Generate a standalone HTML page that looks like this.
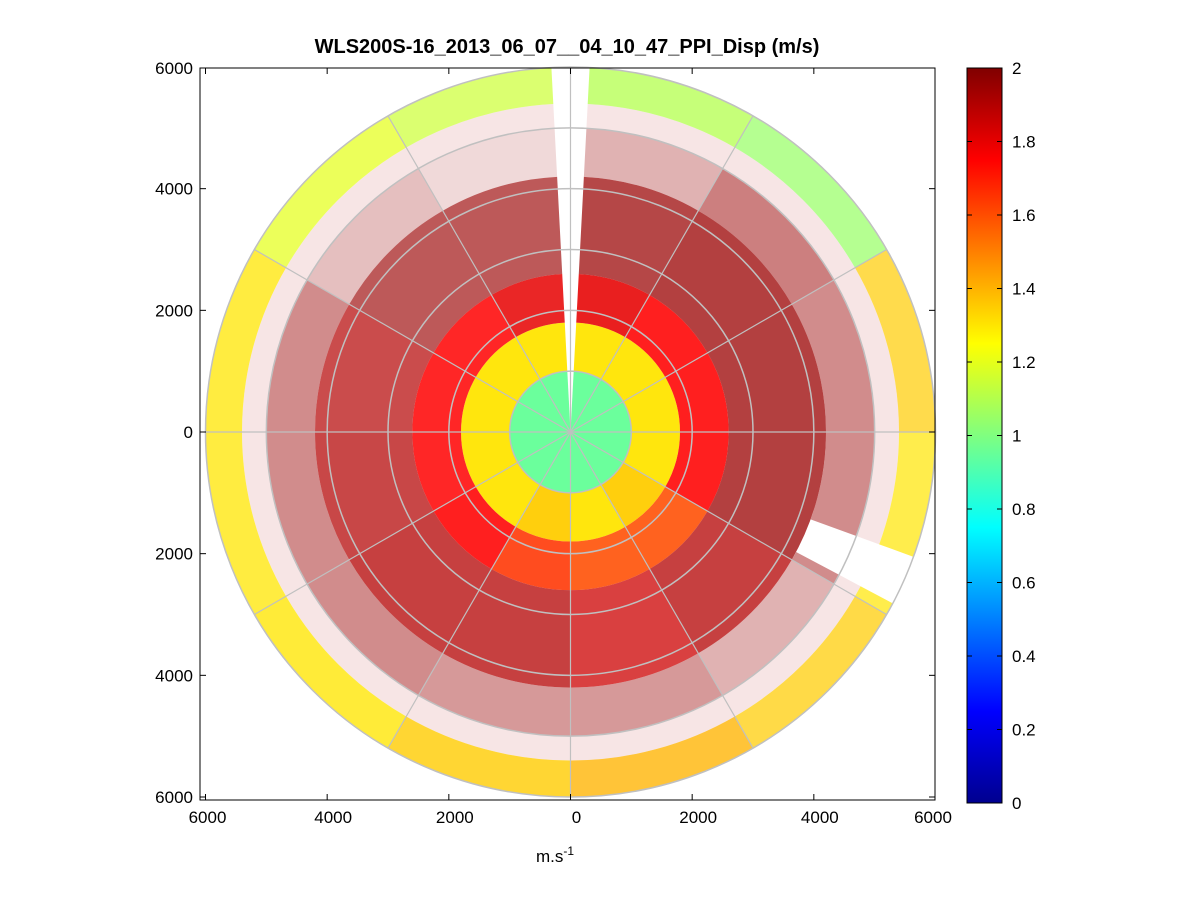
<!DOCTYPE html>
<html><head><meta charset="utf-8"><style>
body{margin:0;background:#fff;}
svg{display:block;font-family:"Liberation Sans",Arial,sans-serif;}
</style></head><body>
<svg id="fig" width="1201" height="901" viewBox="0 0 1201 901">
<text x="567" y="53" font-size="20" font-weight="bold" text-anchor="middle">WLS200S-16_2013_06_07__04_10_47_PPI_Disp (m/s)</text>
<g id="plot"></g>
<g id="grid"></g>
<rect x="200" y="68" width="735" height="732" fill="none" stroke="#000" stroke-width="1"/>
<g id="axes" font-size="17"></g>
<text x="555" y="862" font-size="17" text-anchor="middle">m.s<tspan dy="-7" font-size="12">-1</tspan></text>
<defs><linearGradient id="jet" x1="0" y1="1" x2="0" y2="0">
<stop offset="0" stop-color="#00008f"/><stop offset="0.125" stop-color="#0000ff"/><stop offset="0.375" stop-color="#00ffff"/><stop offset="0.625" stop-color="#ffff00"/><stop offset="0.875" stop-color="#ff0000"/><stop offset="1" stop-color="#800000"/></linearGradient></defs>
<rect x="967" y="68" width="35" height="735" fill="url(#jet)" stroke="#000"/>
<g id="cbticks" font-size="17"></g>
</svg>
<script>
// sectors: 12 x 30deg, starting east, counter-clockwise
const sectorStartDeg = [0,30,60,90,120,150,180,210,240,270,300,330];
const bandEdges = [0,1000,1800,2600,4200,5000,5400,6000];
const bandValues = [
 [0.95,0.95,0.95,0.95,0.95,0.95,0.95,0.95,0.95,0.95,0.95,0.95],
 [1.3,1.3,1.3,1.3,1.3,1.3,1.3,1.3,1.35,1.3,1.35,1.3],
 [1.75,1.75,1.8,1.8,1.75,1.75,1.75,1.75,1.65,1.6,1.6,1.75],
 [1.95,1.95,1.95,1.95,1.95,1.9,1.9,1.9,1.9,1.85,1.9,1.95],
 [1.95,1.95,1.95,1.95,1.95,1.95,1.95,1.95,1.95,1.95,1.95,1.95],
 [1.9,1.9,1.9,1.9,1.9,1.9,1.9,1.9,1.9,1.9,1.9,1.9],
 [1.35,1.05,1.1,1.15,1.2,1.3,1.3,1.3,1.35,1.4,1.35,1.3]
];
const bandCoverage = [
 [0.97,0.97,0.97,0.97,0.97,0.97,0.97,0.97,0.97,0.97,0.97,0.97],
 [0.95,0.95,0.95,0.95,0.95,0.95,0.95,0.95,0.95,0.95,0.95,0.95],
 [0.88,0.88,0.88,0.85,0.85,0.85,0.85,0.88,0.88,0.88,0.88,0.88],
 [0.75,0.75,0.72,0.65,0.65,0.7,0.72,0.75,0.75,0.75,0.75,0.75],
 [0.45,0.5,0.3,0.15,0.25,0.45,0.45,0.45,0.4,0.4,0.3,0.45],
 [0.1,0.1,0.1,0.1,0.1,0.1,0.1,0.1,0.1,0.1,0.1,0.1],
 [0.7,0.72,0.75,0.7,0.72,0.75,0.75,0.78,0.8,0.78,0.72,0.7]
];
const yTicks = [6000,4000,2000,0,-2000,-4000,-6000];
const xTicks = [-6000,-4000,-2000,0,2000,4000,6000];
const cbTicks = [0,0.2,0.4,0.6,0.8,1,1.2,1.4,1.6,1.8,2];
const gridRings = [1000,2000,3000,4000,5000,6000];
const gridSpokesDeg = [0,30,60,90,120,150];

const NS='http://www.w3.org/2000/svg';
const cx=570.5, cy=432, pxPerM=365/6000;
const sx=v=>cx+v*pxPerM, sy=v=>cy-v*pxPerM;
const cbY=v=>803-v/2*735;
function jet(v){v=Math.max(0,Math.min(1,v/2));
 const st=[[0,0,0,143],[0.125,0,0,255],[0.375,0,255,255],[0.625,255,255,0],[0.875,255,0,0],[1,128,0,0]];
 for(let i=1;i<st.length;i++){if(v<=st[i][0]){const a=st[i-1],b=st[i],t=(v-a[0])/(b[0]-a[0]);
 return `rgb(${Math.round(a[1]+t*(b[1]-a[1]))},${Math.round(a[2]+t*(b[2]-a[2]))},${Math.round(a[3]+t*(b[3]-a[3]))})`;}}return 'rgb(128,0,0)';}
function pt(r,deg){const a=deg*Math.PI/180;return [sx(r*Math.cos(a)),sy(r*Math.sin(a))];}
function sectorPath(r0,r1,a0,a1){const p1=pt(r1,a0),p2=pt(r1,a1),p3=pt(r0,a1),p4=pt(r0,a0);
 const R1=r1*pxPerM,R0=r0*pxPerM;
 return `M${p1}A${R1},${R1} 0 0 0 ${p2}L${p3}`+(r0>0?`A${R0},${R0} 0 0 1 ${p4}Z`:'Z');}
const plot=document.getElementById('plot');
for(let b=0;b<bandValues.length;b++){
 for(let s=0;s<sectorStartDeg.length;s++){
  let a0=sectorStartDeg[s],a1=a0+30;
  const segs=[];
  if(a0===60){segs.push([60,87]);}else if(a0===90){segs.push([93,120]);}
  else if(a0===330&&bandEdges[b]>=4200){segs.push([330,332],[340,360]);}
  else segs.push([a0,a1]);
  for(const [s0,s1] of segs){
   const p=document.createElementNS(NS,'path');
   p.setAttribute('d',sectorPath(bandEdges[b],bandEdges[b+1],s0,s1));
   p.setAttribute('fill',jet(bandValues[b][s]));
   p.setAttribute('fill-opacity',bandCoverage[b][s]);
   
   
   plot.appendChild(p);
  }
 }
}
const grid=document.getElementById('grid');
for(const r of gridRings){const c=document.createElementNS(NS,'circle');
 c.setAttribute('cx',cx);c.setAttribute('cy',cy);c.setAttribute('r',r*pxPerM);
 c.setAttribute('fill','none');c.setAttribute('stroke','#c0c0c0');c.setAttribute('stroke-width','1.5');
 
 
 grid.appendChild(c);}
for(const d of gridSpokesDeg){const l=document.createElementNS(NS,'line');const p1=pt(6000,d),p2=pt(6000,d+180);
 l.setAttribute('x1',p1[0]);l.setAttribute('y1',p1[1]);l.setAttribute('x2',p2[0]);l.setAttribute('y2',p2[1]);
 l.setAttribute('stroke','#c0c0c0');l.setAttribute('stroke-width','1.2');
 
 
 grid.appendChild(l);}
const axes=document.getElementById('axes');
function addText(g,x,y,txt,anchor,name){const t=document.createElementNS(NS,'text');
 t.setAttribute('x',x);t.setAttribute('y',y);t.setAttribute('text-anchor',anchor);t.textContent=txt;
 
 
 g.appendChild(t);}
function addLine(g,x1,y1,x2,y2){const l=document.createElementNS(NS,'line');
 l.setAttribute('x1',x1);l.setAttribute('y1',y1);l.setAttribute('x2',x2);l.setAttribute('y2',y2);l.setAttribute('stroke','#000');
 
 
 g.appendChild(l);}
for(const v of yTicks){const y=Math.min(800,Math.max(68,sy(v)));addLine(axes,200,y,206,y);addLine(axes,935,y,929,y);
 addText(axes,193,y+6,String(Math.abs(v)),'end','y-tick-label');}
for(const v of xTicks){const x=Math.min(935,Math.max(200,sx(v)));addLine(axes,x,800,x,794);addLine(axes,x,68,x,74);
 addText(axes,x+(v===-6000?2:v===6000?-2:6),823,String(Math.abs(v)),'middle','x-tick-label');}
const cb=document.getElementById('cbticks');
for(const v of cbTicks){const y=cbY(v);addLine(cb,967,y,972,y);addLine(cb,1002,y,997,y);
 addText(cb,1012,y+6,String(v),'start','colorbar-tick-label');}
</script>
</body></html>
